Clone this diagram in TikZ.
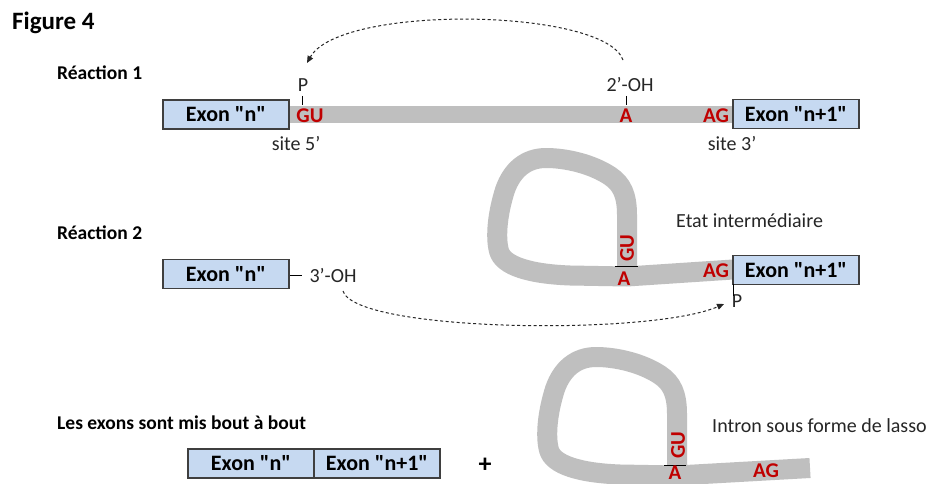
\documentclass[tikz,border=0pt]{standalone}
\usepackage{fontspec}
\setmainfont{Carlito}[Ligatures=TeXOff]
\usetikzlibrary{arrows.meta}
\definecolor{exfill}{HTML}{C6D9F1}
\definecolor{exdraw}{HTML}{3F3F3F}
\definecolor{rna}{HTML}{BFBFBF}
\definecolor{nucl}{HTML}{C00000}
\definecolor{txt}{HTML}{262626}
\tikzset{
  lbl/.style={inner sep=0pt, text=txt, font=\fontsize{20}{24}\selectfont},
  hdr/.style={inner sep=0pt, anchor=base west, font=\fontsize{19.5}{24}\selectfont\bfseries},
  exon/.style={draw=exdraw, fill=exfill, line width=1.2pt, minimum width=126pt, minimum height=29pt, inner sep=0pt, font=\fontsize{22}{26}\selectfont\bfseries},
  nt/.style={inner sep=0pt, text=nucl, font=\fontsize{21}{24}\selectfont\bfseries},
  lassoline/.style={draw=rna, line width=20pt, line join=round, line cap=butt},
  tickline/.style={draw=black, line width=0.9pt},
  dasharrow/.style={draw=txt, dash pattern=on 3pt off 2.5pt, line width=1pt, -{Triangle[length=7pt,width=6pt]}}
}
\begin{document}
\begin{tikzpicture}[x=1pt,y=-1pt]
\useasboundingbox[fill=white] (0,0) rectangle (936,484);

% titles
\node[inner sep=0pt, anchor=base west, font=\fontsize{25}{30}\selectfont\bfseries] (title) at (12,30) {Figure 4};
\node[hdr] (r1) at (57,80) {Réaction 1};
\node[hdr] (r2) at (57,239) {Réaction 2};
\node[hdr] (r3) at (57,429) {Les exons sont mis bout à bout};

% ---------- Reaction 1 ----------
\fill[rna] (289,106) rectangle (733,123);
\node[exon] (e1n) at (226,114.5) {Exon "n"};
\node[exon] (e1m) at (796,114) {Exon "n+1"};
\node[nt, anchor=base] (gu1) at (310,122) {GU};
\node[nt, anchor=base] (a1) at (626,122) {A};
\node[nt, anchor=base] (ag1) at (716,122) {AG};
\node[lbl, anchor=base] (p1) at (303,92) {P};
\node[lbl, anchor=base] (oh2) at (630,92) {2’-OH};
\node[lbl, anchor=base] (s5) at (296,150) {site 5’};
\node[lbl, anchor=base] (s3) at (732,150) {site 3’};
\draw[tickline] (302,96) -- (302,105);
\draw[tickline] (626,96) -- (626,105);
\coordinate (a1s) at (623,60);
\coordinate (a1e) at (307,63);
\draw[dasharrow] (a1s) .. controls (605,8) and (340,4) .. (a1e);

% ---------- Reaction 2 ----------
\draw[lassoline] (627,267) -- (627,215) .. controls (627,195) and (622,184) .. (610,176)
  .. controls (592,164) and (566,158) .. (546,158) .. controls (526,158) and (512,170) .. (505,190)
  .. controls (498,212) and (495,236) .. (499,251) .. controls (503,266) and (530,274) .. (570,275.5)
  -- (627,276.5) -- (733,269.5);
\draw[tickline] (615,266) -- (638,266);
\node[exon] (e2n) at (226,274) {Exon "n"};
\node[exon] (e2m) at (796,270) {Exon "n+1"};
\node[nt, rotate=90] (gu2) at (627,248) {GU};
\node[nt, anchor=base] (a2) at (624,285) {A};
\node[nt, anchor=base] (ag2) at (716,277) {AG};
\node[lbl, anchor=base] (oh3) at (333,282) {3’-OH};
\node[lbl, anchor=base] (p2) at (737,307) {P};
\node[lbl, anchor=base west] (inter) at (676,227) {Etat intermédiaire};
\draw[tickline] (290,275) -- (302,275);
\draw[tickline] (733,284) -- (733,296);
\coordinate (a2s) at (343,291);
\coordinate (a2e) at (724,304);
\draw[dasharrow] (a2s) .. controls (355,332) and (650,336) .. (a2e);

% ---------- Result ----------
\node[exon] (e3n) at (251,463.5) {Exon "n"};
\node[exon] (e3m) at (377,463.5) {Exon "n+1"};
\node[inner sep=0pt, font=\fontsize{26}{30}\selectfont\bfseries] (plus) at (485,465) {+};
\begin{scope}[shift={(50,199)}]
\draw[lassoline] (627,267) -- (627,215) .. controls (627,195) and (622,184) .. (610,176)
  .. controls (592,164) and (566,158) .. (546,158) .. controls (526,158) and (512,170) .. (505,190)
  .. controls (498,212) and (495,236) .. (499,251) .. controls (503,266) and (530,274) .. (570,275.5)
  -- (627,276.5) -- (760,269);
\draw[tickline] (614,266) -- (636,266);
\end{scope}
\node[nt, rotate=90] (gu3) at (678,445) {GU};
\node[nt, anchor=base] (a3) at (675,479.5) {A};
\node[nt, anchor=base] (ag3) at (766,477) {AG};
\node[lbl, anchor=base west] (lasso) at (712,432) {Intron sous forme de lasso};
\end{tikzpicture}
\end{document}
